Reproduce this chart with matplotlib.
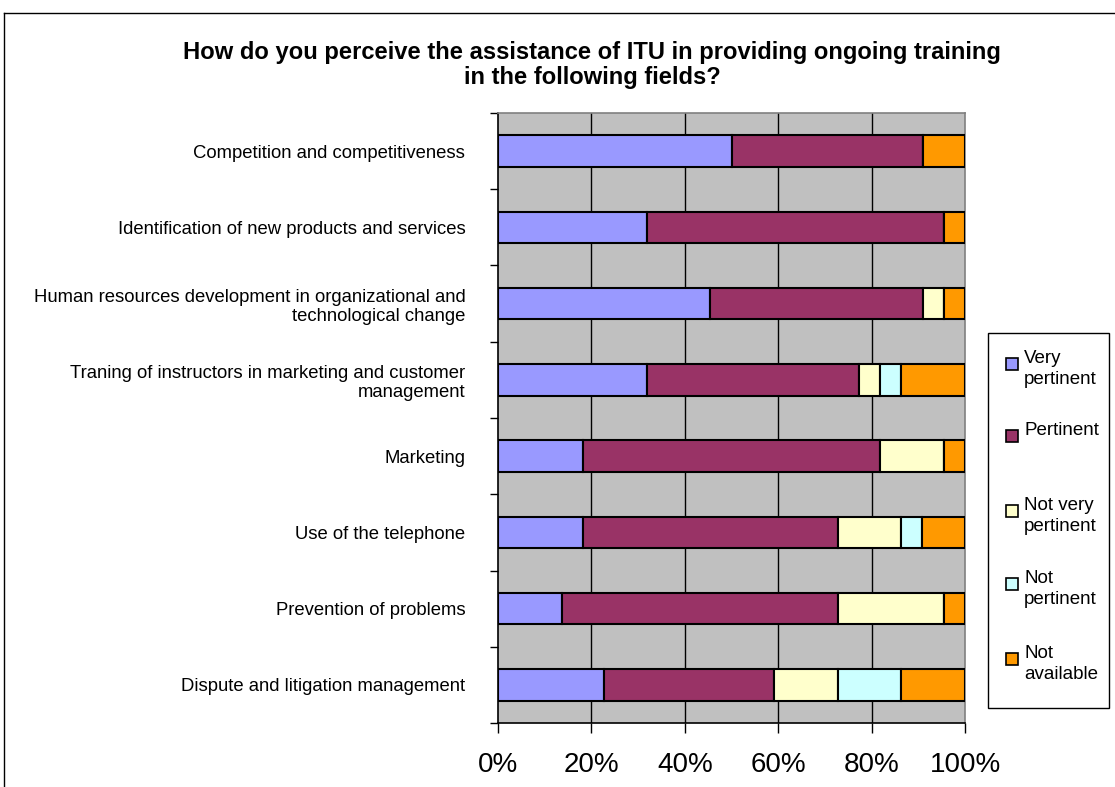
import matplotlib.pyplot as plt
import numpy as np
from matplotlib.patches import Rectangle
from matplotlib.lines import Line2D

plt.rcParams['font.family'] = ['Liberation Sans', 'DejaVu Sans']

categories = [
    "Competition and competitiveness",
    "Identification of new products and services",
    "Human resources development in organizational and\ntechnological change",
    "Traning of instructors in marketing and customer\nmanagement",
    "Marketing",
    "Use of the telephone",
    "Prevention of problems",
    "Dispute and litigation management",
]
series_names = ["Very\npertinent", "Pertinent", "Not very\npertinent", "Not\npertinent", "Not\navailable"]
very_pertinent = [50.0, 31.8, 45.5, 31.8, 18.2, 18.2, 13.6, 22.7]
pertinent = [40.9, 63.6, 45.5, 45.5, 63.6, 54.5, 59.1, 36.4]
not_very_pertinent = [0.0, 0.0, 4.5, 4.5, 13.6, 13.6, 22.7, 13.6]
not_pertinent = [0.0, 0.0, 0.0, 4.5, 0.0, 4.5, 0.0, 13.6]
not_available = [9.1, 4.5, 4.5, 13.6, 4.5, 9.1, 4.5, 13.6]
colors = ["#9999FF", "#993366", "#FFFFCC", "#CCFFFF", "#FF9900"]
xticks = [0, 20, 40, 60, 80, 100]

fig = plt.figure(figsize=(11.15, 7.87), dpi=100)
ax = fig.add_axes([498 / 1115, 1 - 723 / 787, 467 / 1115, 610 / 787])
ax.set_facecolor("#C0C0C0")

y = np.arange(len(categories))
left = np.zeros(len(categories))
bars = []
for vals, c, name in zip([very_pertinent, pertinent, not_very_pertinent, not_pertinent, not_available],
                         colors, series_names):
    b = ax.barh(y, vals, left=left, height=0.41, color=c, edgecolor="black", linewidth=1.5,
                label=name, zorder=3)
    bars.append(b)
    left += np.array(vals)

ax.set_xlim(0, 100)
ax.set_ylim(len(categories) - 0.5, -0.5)

for xv in xticks[1:-1]:
    ax.axvline(xv, color="black", linewidth=1, zorder=1)

ax.set_xticks(xticks)
ax.set_xticklabels([f"{v}%" for v in xticks], fontsize=20)
ax.tick_params(axis="x", length=7, width=1, pad=14, direction="out")

ax.set_yticks(y)
ax.set_yticklabels(categories, fontsize=13.3, linespacing=1.2)
ax.tick_params(axis="y", length=0, pad=23.5)
ax.set_yticks(np.arange(-0.5, len(categories)), minor=True)
ax.tick_params(axis="y", which="minor", length=6, width=1, direction="out")

ax.spines["left"].set_color("black")
ax.spines["bottom"].set_color("black")
ax.spines["top"].set_color("#808080")
ax.spines["right"].set_color("#808080")
for s in ax.spines.values():
    s.set_linewidth(1.2)

fig.text(592 / 1115, 1 - 65 / 787,
         "How do you perceive the assistance of ITU in providing ongoing training\nin the following fields?",
         ha="center", va="center", fontsize=17.1, fontweight="bold", linespacing=1.1)

# outer chart border (top and left edges visible)
fig.add_artist(Line2D([4 / 1115, 4 / 1115], [0, 1 - 13 / 787], transform=fig.transFigure,
                      color="black", linewidth=1))
fig.add_artist(Line2D([4 / 1115, 1], [1 - 13 / 787, 1 - 13 / 787], transform=fig.transFigure,
                      color="black", linewidth=1))

# legend box
fig.add_artist(Rectangle((988 / 1115, 1 - 708 / 787), 121 / 1115, 375 / 787,
                         transform=fig.transFigure, facecolor="white", edgecolor="black", linewidth=1))
entry_y = [360, 432, 507, 580, 655]
for b, name, ey in zip(bars, series_names, entry_y):
    fig.add_artist(Rectangle((1006 / 1115, 1 - (ey + 10) / 787), 12 / 1115, 12 / 787,
                             transform=fig.transFigure, facecolor=b.patches[0].get_facecolor(),
                             edgecolor="black", linewidth=1.2))
    fig.text(1024 / 1115, 1 - (ey - 10) / 787, name, ha="left", va="top", fontsize=13.5, linespacing=1.3)

fig.savefig("out.png", dpi=100)
